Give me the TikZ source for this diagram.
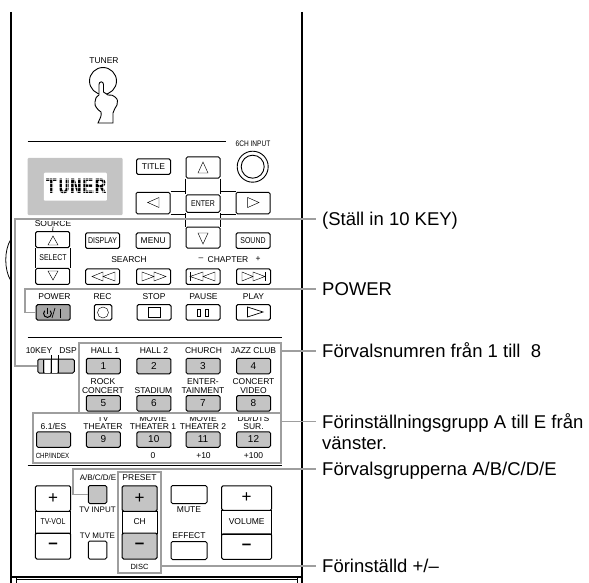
\documentclass[tikz,border=0pt]{standalone}
\usepackage{fontspec}
\setmainfont{Liberation Sans}
\newfontfamily\narrowfont[FakeStretch=0.82]{Liberation Sans}
\newfontfamily\dotfont[FakeStretch=0.92]{Liberation Mono}
\usetikzlibrary{positioning}
\definecolor{keygray}{gray}{0.77}
\definecolor{linegray}{gray}{0.62}
\tikzset{
  key/.style={draw=black,line width=1pt,rounded corners=1.5pt,minimum width=34pt,minimum height=15.5pt,inner sep=0pt,font=\fontsize{8.5}{9}\selectfont},
  graykey/.style={key,fill=keygray,font=\fontsize{10}{10}\selectfont},
  narrowkey/.style={key,font=\narrowfont\fontsize{8.5}{9}\selectfont},
  mark text/.style={inner sep=0pt,align=center,font=\fontsize{8.5}{8.2}\selectfont},
  narrow text/.style={inner sep=0pt,align=center,font=\narrowfont\fontsize{8.5}{8.2}\selectfont},
  plus sign/.style={font=\fontsize{17}{17}\selectfont},
  minus sign/.style={font=\fontsize{17}{17}\selectfont\bfseries},
  callout/.style={draw=linegray,line width=1.2pt},
  groupbox/.style={draw=linegray,line width=1.2pt,inner sep=0pt},
  note/.style={anchor=west,inner sep=0pt,inner xsep=6pt,text height=13pt,text depth=0pt,font=\fontsize{18.5}{18.5}\selectfont},
  symbol/.style={draw=black,line width=0.45pt}
}
\begin{document}
\begin{tikzpicture}[x=1pt,y=-1pt]
  \useasboundingbox (0,0) rectangle (589,583);

  % housing
  \draw[line width=1.5pt] (11,12) -- (11,583);
  \draw[line width=1.5pt] (302,12) -- (302,583);
  \draw[line width=1.5pt] (11,577) -- (302,577);
  \draw[line width=0.7pt] (16,578) -- (16,583);
  \draw[line width=0.7pt] (297,578) -- (297,583);
  \draw[line width=0.7pt] (16,579) -- (297,579);
  \draw[line width=0.8pt] (11,239) .. controls (4,250) and (4,270) .. (11,281);
  \draw[line width=0.9pt] (27.5,141) -- (226,141);
  \draw[line width=0.9pt] (27.5,337) -- (282,337);
  \draw[line width=0.9pt] (27.5,465) -- (282,465);

  % tuner key with hand
  \node[mark text] (tunerlab) at (104,60.5) {TUNER};
  \node[circle,draw,line width=0.9pt,minimum size=27pt,inner sep=0pt] (tunerkey) at (103,81) {};
  \draw[line width=0.9pt,fill=white] (99,95) -- (99,84.5) .. controls (99,81) and (103.5,81) .. (103.5,84.5) -- (103.5,92)
    .. controls (105,93) and (106,93) .. (108,95) .. controls (111,95) and (114,95) .. (115,97)
    .. controls (118,99) and (118,102) .. (117,105) .. controls (116,108) and (113,110) .. (113,113) -- (113,123) -- (98,123)
    .. controls (100,118) and (102,116) .. (101,112) .. controls (98,110) and (94,106) .. (95,102) .. controls (95,99) and (96,97) .. (99,95);

  % display
  \node[inner sep=0pt,minimum width=95pt,minimum height=57pt,fill=keygray,rounded corners=1pt] (display) at (75.2,186.5) {};
  \node[inner sep=0pt,minimum width=63pt,minimum height=28pt,fill=white,rounded corners=1pt] (screen) at (75.3,186.7) {};
  \node[inner sep=0pt,font=\dotfont\fontsize{22}{22}\selectfont\bfseries] (screentext) at (76,186) {TUNER};
  \draw[blend mode=screen,color=gray!75,line width=17pt,dash pattern=on 0.9pt off 2.7pt] (45,186) -- (108,186);
  \draw[blend mode=screen,color=gray!75,line width=62pt,dash pattern=on 1pt off 3.2pt] (76,178.5) -- (76,194);

  % top keys
  \node[inner sep=0pt,font=\narrowfont\fontsize{8}{8}\selectfont] (sixtext) at (253,143.5) {6CH INPUT};
  \node[circle,draw,line width=0.9pt,minimum size=31pt,inner sep=0pt] (sixouter) at (252.7,166.7) {};
  \node[circle,draw,line width=0.9pt,minimum size=23pt,inner sep=0pt] (sixinner) at (252.7,166.7) {};
  \node[key] (title) at (153.5,166.7) {TITLE};

  % cursor keys
  \node[key,minimum height=21pt] (upkey) at (203,167.5) {};
  \node[narrowkey,minimum height=17.5pt] (enter) at (203,203.5) {ENTER};
  \node[key,minimum height=21pt] (downkey) at (203,237.5) {};
  \node[key,minimum height=21.5pt] (leftkey) at (153,203) {};
  \node[key,minimum height=21.5pt] (rightkey) at (253,203) {};
  \draw[line width=0.9pt] (upkey.south west) -- (enter.north west);
  \draw[line width=0.9pt] (upkey.south east) -- (enter.north east);
  \draw[line width=0.9pt] (enter.south west) -- (downkey.north west);
  \draw[line width=0.9pt] (enter.south east) -- (downkey.north east);
  \draw[line width=0.9pt] (leftkey.north east) -- (upkey.south west |- leftkey.north);
  \draw[line width=0.9pt] (leftkey.south east) -- (upkey.south west |- leftkey.south);
  \draw[line width=0.9pt] (rightkey.north west) -- (upkey.south east |- rightkey.north);
  \draw[line width=0.9pt] (rightkey.south west) -- (upkey.south east |- rightkey.south);
  \draw[symbol] (203,162) -- (198,173) -- (208,173) -- cycle;
  \draw[symbol] (198,233) -- (208,233) -- (203,244) -- cycle;
  \draw[symbol] (147.7,202.5) -- (159,197.5) -- (159,207.5) -- cycle;
  \draw[symbol] (259,202.5) -- (247.7,197.5) -- (247.7,207.5) -- cycle;

  % source rocker
  \node[mark text] (sourcelab) at (53,223.5) {SOURCE};
  \fill[white] (40,219) rectangle (95,220.7);
  \node[key,minimum height=16pt] (sourceup) at (52.7,239.5) {};
  \node[key,minimum height=16pt] (sourcedown) at (52.7,276.3) {};
  \node[narrow text] (selectlab) at (53,258) {SELECT};
  \draw[line width=0.9pt] (sourceup.south west) -- (sourcedown.north west);
  \draw[line width=0.9pt] (sourceup.south east) -- (sourcedown.north east);
  \draw[line width=0.7pt] (sourcelab.south) -- (sourceup.north);
  \draw[symbol] (53,236) -- (48,245) -- (58,245) -- cycle;
  \draw[symbol] (48,271) -- (58,271) -- (53,280) -- cycle;

  % middle keys
  \node[narrowkey] (displaykey) at (102.5,240.7) {DISPLAY};
  \node[key] (menu) at (153.2,240.7) {MENU};
  \node[narrowkey] (sound) at (253,240.7) {SOUND};
  \node[mark text] (searchlab) at (129,259.5) {SEARCH};
  \node[mark text] (chapterlab) at (228,259.5) {CHAPTER};
  \node[mark text,left=4pt of chapterlab] (chapterminus) {--};
  \node[mark text,right=7pt of chapterlab] (chapterplus) {+};
  \node[key] (rewind) at (102.7,276.7) {};
  \node[key] (forward) at (153.5,276.7) {};
  \node[key] (prevkey) at (203,276.7) {};
  \node[key] (nextkey) at (253.5,276.7) {};
  \draw[symbol] (92,276.5) -- (103,272) -- (103,281) -- cycle;
  \draw[symbol] (103,276.5) -- (115,272) -- (115,281) -- cycle;
  \draw[symbol] (154,276.5) -- (142,272) -- (142,281) -- cycle;
  \draw[symbol] (166,276.5) -- (154,272) -- (154,281) -- cycle;
  \draw[symbol] (190,272) -- (190,281);
  \draw[symbol] (190,276.5) -- (203,272) -- (203,281) -- cycle;
  \draw[symbol] (203,276.5) -- (215,272) -- (215,281) -- cycle;
  \draw[symbol] (265,272) -- (265,281);
  \draw[symbol] (265,276.5) -- (253,272) -- (253,281) -- cycle;
  \draw[symbol] (253,276.5) -- (242,272) -- (242,281) -- cycle;

  % transport keys
  \node[mark text] (powerlab) at (54.5,297) {POWER};
  \node[mark text] (reclab) at (102.5,297) {REC};
  \node[mark text] (stoplab) at (154,297) {STOP};
  \node[mark text] (pauselab) at (203.5,297) {PAUSE};
  \node[mark text] (playlab) at (253.5,297) {PLAY};
  \node[key,fill=gray!70] (powerkey) at (53.2,312.4) {};
  \node[key,minimum width=17.5pt] (reckey) at (103,312.4) {};
  \node[key] (stopkey) at (154,312.4) {};
  \node[key] (pausekey) at (203,312.4) {};
  \node[key] (playkey) at (253.3,312.4) {};
  \draw[line width=1pt] (44.74,310.74) arc (225:-45:3.9);
  \draw[line width=1pt] (47.5,307.5) -- (47.5,313.5);
  \draw[line width=0.7pt] (52,318) -- (55,308);
  \draw[line width=0.9pt] (60,308.5) -- (60,318);
  \draw[symbol] (103,312.5) circle (5.5);
  \draw[symbol] (148,307.5) rectangle (160,317);
  \draw[symbol] (197,309.5) rectangle (200.5,316);
  \draw[symbol] (205,309.5) rectangle (208.5,316);
  \draw[symbol,line width=0.7pt] (247.5,307) -- (263,312) -- (247.5,317) -- cycle;

  % mode slider
  \node[mark text] (tenkeylab) at (39,351) {10KEY};
  \node[mark text] (dsplab) at (68,351) {DSP};
  \node[draw=black,line width=1pt,rounded corners=1.5pt,fill=keygray,inner sep=0pt,minimum width=36.5pt,minimum height=14pt] (tenkey) at (56,366) {};
  \fill[white] (44.5,360) rectangle (50,372.5);
  \fill[white] (52,360) rectangle (57,372.5);
  \draw[line width=0.8pt] (43.5,359.5) -- (43.5,372.5);
  \draw[line width=0.8pt] (51,355) -- (51,372.5);
  \draw[line width=0.8pt] (58,355) -- (58,372.5);

  % preset keys 1 to 8
  \node[mark text] (halla) at (105,351) {HALL 1};
  \node[mark text] (hallb) at (154,351) {HALL 2};
  \node[mark text] (church) at (203.5,351) {CHURCH};
  \node[mark text] (jazz) at (253.5,351) {JAZZ CLUB};
  \node[graykey] (keya) at (103.3,366) {1};
  \node[graykey] (keyb) at (153.8,366) {2};
  \node[graykey] (keyc) at (203,366) {3};
  \node[graykey] (keyd) at (253.5,366) {4};
  \node[mark text] (rock) at (103,386) {ROCK\\CONCERT};
  \node[mark text] (stadium) at (153.5,390.3) {STADIUM};
  \node[mark text] (enterta) at (203,386) {ENTER-\\TAINMENT};
  \node[mark text] (concert) at (253.5,386) {CONCERT\\VIDEO};
  \node[graykey] (keye) at (103.3,403.3) {5};
  \node[graykey] (keyf) at (153.8,403.3) {6};
  \node[graykey] (keyg) at (203,403.3) {7};
  \node[graykey] (keyh) at (253.5,403.3) {8};

  % preset keys 9 to 12
  \node[mark text] (sixone) at (53.5,426.5) {6.1/ES};
  \node[mark text] (theatera) at (103,422.3) {TV\\THEATER};
  \node[mark text] (theaterb) at (153,422.3) {MOVIE\\THEATER 1};
  \node[mark text] (theaterc) at (203,422.3) {MOVIE\\THEATER 2};
  \node[mark text] (surround) at (253.5,422.3) {DD/DTS\\SUR.};
  \fill[white] (34,413) rectangle (281,416.5);
  \node[graykey] (keyes) at (53.5,439.5) {};
  \node[graykey] (keyi) at (103.3,439.5) {9};
  \node[graykey] (keyj) at (153.8,439.5) {10};
  \node[graykey] (keyk) at (203,439.5) {11};
  \node[graykey] (keyl) at (253.5,439.5) {12};
  \node[narrow text,font=\narrowfont\fontsize{7.5}{8}\selectfont] (chapindex) at (52.5,456) {CHP/INDEX};
  \node[mark text] (zero) at (153,456) {0};
  \node[mark text] (plusten) at (203.5,456) {+10};
  \node[mark text] (plushundred) at (253.5,456) {+100};

  % lower keys
  \node[key,minimum width=35.4pt,minimum height=25.5pt,plus sign] (tvplus) at (53,498.5) {+};
  \node[narrowkey,rounded corners=0pt,minimum width=35.4pt,minimum height=22pt] (tvvol) at (53,522) {TV-VOL};
  \node[key,minimum width=35.4pt,minimum height=26pt,minus sign] (tvminus) at (53,546) {\raisebox{-3pt}{--}};
  \node[inner sep=0pt,font=\fontsize{8}{8}\selectfont] (grouplab) at (98,478) {A/B/C/D/E};
  \fill[white] (118,473) rectangle (122,484);
  \node[graykey,minimum width=18.5pt,minimum height=18pt] (tvinput) at (97.5,494.5) {};
  \node[narrow text,font=\fontsize{8}{8}\selectfont] (tvinputlab) at (97.5,509.5) {TV INPUT};
  \node[narrow text,font=\fontsize{8}{8}\selectfont] (tvmutelab) at (97.5,536) {TV MUTE};
  \node[key,minimum width=18.5pt,minimum height=18pt] (tvmute) at (97.5,550) {};
  \node[mark text] (presetlab) at (139.5,478) {PRESET};
  \node[graykey,minimum width=35pt,minimum height=25.5pt,plus sign] (chplus) at (139.7,498.5) {+};
  \node[key,rounded corners=0pt,minimum width=35pt,minimum height=22pt] (chlab) at (139.7,522) {CH};
  \node[graykey,minimum width=35pt,minimum height=26pt,minus sign] (chminus) at (139.7,546) {\raisebox{-3pt}{--}};
  \node[mark text,font=\fontsize{7.5}{8}\selectfont] (disclab) at (139.5,567) {DISC};
  \node[key,minimum width=36pt,minimum height=18pt] (mutekey) at (189,494.5) {};
  \node[mark text] (mutelab) at (189,509.5) {MUTE};
  \node[mark text] (effectlab) at (189,536) {EFFECT};
  \node[key,minimum width=36pt,minimum height=18pt] (effectkey) at (189,550.5) {};
  \node[key,minimum width=50pt,minimum height=24.5pt,plus sign] (volplus) at (246.7,498) {+};
  \node[key,rounded corners=0pt,minimum width=50pt,minimum height=24pt] (volume) at (246.7,522) {VOLUME};
  \node[key,minimum width=50pt,minimum height=25.5pt,minus sign] (volminus) at (246.7,546.5) {\raisebox{-3pt}{--}};

  % gray frames round the groups
  \node[groupbox,minimum width=202pt,minimum height=70pt] (hallbox) at (180,378) {};
  \node[groupbox,minimum width=248pt,minimum height=50pt] (theaterbox) at (157,438) {};
  \node[groupbox,minimum width=43pt,minimum height=101pt] (presetbox) at (139.5,522.5) {};

  % notes
  \node[note] (notekey) at (316,219) {(Ställ in 10 KEY)};
  \node[note] (notepower) at (316,289) {POWER};
  \node[note] (notehall) at (316,351) {Förvalsnumren från 1 till\ \ 8};
  \node[note] (notetheater) at (316,421.5) {Förinställningsgrupp A till E från};
  \node[note] (notetheaterb) at (316,443) {vänster.};
  \node[note] (notegroup) at (316,469) {Förvalsgrupperna A/B/C/D/E};
  \node[note] (notepreset) at (316,566) {Förinställd +/--};

  \coordinate (bendkey) at (15,219);
  \coordinate (bendpower) at (25,289);
  \coordinate (bendgroup) at (73,469);
  \draw[callout] (tenkey.west) -| (bendkey) -- (notekey.west);
  \draw[callout] (powerkey.west) -| (bendpower) -- (notepower.west);
  \draw[callout] (tvinput.west) -| (bendgroup) -- (notegroup.west);
  \draw[callout] (hallbox.east |- notehall.west) -- (notehall.west);
  \draw[callout] (theaterbox.east |- notetheater.west) -- (notetheater.west);
  \draw[callout] (presetbox.east |- notepreset.west) -- (notepreset.west);
\end{tikzpicture}
\end{document}
